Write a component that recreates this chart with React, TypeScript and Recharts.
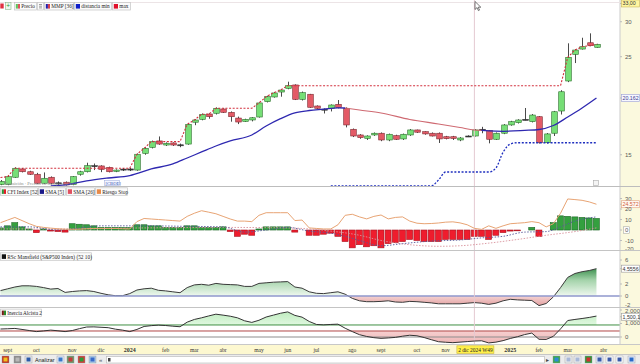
import React from 'react';
import { ComposedChart, Bar, Line, Area, XAxis, YAxis, ReferenceLine } from 'recharts';

// ---------- weekly price data (index 0 = week of 28 Aug 2023) ----------
const opens = [12.85, 12.85, 13.34, 13.93, 13.73, 13.55, 12.93, 13.34, 12.9, 13.0,
  12.85, 13.55, 13.73, 14.15, 14.15, 14.05, 13.76, 13.9, 13.93, 13.85,
  15.11, 15.59, 16.12, 15.78, 15.95, 15.8, 15.86, 17.77, 18.04, 18.55,
  18.62, 19.04, 18.71, 18.16, 17.85, 17.98, 18.26, 19.78, 20.27, 20.8,
  21.2, 21.58, 20.02, 20.56, 19.34, 19.0, 19.11, 19.51, 19.11, 17.13,
  16.63, 16.34, 16.63, 16.78, 16.2, 16.57, 16.29, 16.63, 17.07, 16.92,
  16.78, 16.78, 16.48, 16.48, 16.2, 16.52, 16.54, 17.12, 17.01, 16.26,
  16.78, 17.52, 17.73, 18.02, 17.82, 18.29, 15.97, 16.78, 18.84, 22.03,
  25.31, 26.02, 26.89, 26.26];
const highs = [13.15, 13.45, 14.05, 14.0, 13.8, 13.65, 13.68, 13.4, 13.05, 13.05,
  13.42, 13.8, 14.39, 14.33, 14.2, 14.1, 13.9, 14.0, 14.0, 15.1,
  15.6, 16.15, 16.5, 16.0, 16.0, 15.9, 17.65, 18.05, 18.6, 18.62,
  19.2, 19.1, 18.8, 18.3, 18.1, 18.25, 19.7, 20.4, 20.8, 21.1,
  21.95, 21.65, 20.85, 20.6, 19.4, 19.1, 19.5, 19.95, 19.2, 17.2,
  16.7, 16.6, 16.85, 16.85, 16.75, 16.65, 16.75, 17.15, 17.1, 16.95,
  16.85, 16.85, 16.55, 16.55, 16.45, 16.6, 17.15, 17.35, 17.05, 16.85,
  17.6, 17.9, 18.05, 19.14, 18.55, 18.35, 16.8, 18.85, 21.0, 26.81,
  26.0, 27.6, 28.24, 26.75];
const lows = [12.8, 12.8, 13.3, 13.68, 13.5, 12.88, 12.88, 12.85, 12.82, 12.78,
  12.8, 13.45, 13.68, 13.85, 13.7, 13.68, 13.7, 13.78, 13.78, 13.8,
  15.0, 15.5, 15.8, 15.7, 15.7, 15.6, 15.8, 17.5, 17.95, 18.1,
  18.5, 18.65, 17.82, 17.6, 17.8, 17.85, 18.2, 19.7, 20.2, 20.3,
  21.1, 19.95, 19.9, 19.15, 19.05, 18.6, 18.8, 19.1, 17.3, 16.45,
  16.3, 16.2, 16.55, 16.1, 16.1, 16.2, 16.2, 16.55, 16.8, 16.65,
  16.5, 15.95, 16.25, 16.2, 16.1, 16.45, 16.5, 16.78, 15.92, 16.2,
  16.7, 17.45, 17.65, 17.95, 17.75, 15.9, 15.9, 16.54, 18.5, 21.9,
  24.19, 25.95, 26.4, 26.2];
const closes = [13.05, 13.38, 13.98, 13.73, 13.55, 12.93, 13.27, 12.93, 12.96, 12.82,
  13.38, 13.73, 14.17, 14.17, 13.9, 13.73, 13.85, 13.92, 13.85, 15.04,
  15.51, 16.06, 15.86, 15.92, 15.78, 15.78, 17.58, 17.98, 18.52, 18.29,
  19.11, 18.71, 18.29, 17.79, 18.04, 18.19, 19.65, 20.3, 20.7, 21.02,
  21.5, 20.02, 20.73, 19.21, 19.11, 19.02, 19.44, 19.17, 17.52, 16.54,
  16.4, 16.54, 16.78, 16.2, 16.69, 16.26, 16.69, 17.07, 16.87, 16.72,
  16.54, 16.29, 16.31, 16.33, 16.37, 16.54, 17.07, 17.13, 16.26, 16.78,
  17.52, 17.82, 17.98, 18.04, 18.45, 15.97, 16.72, 18.77, 20.83, 24.92,
  25.89, 26.34, 26.48, 26.67];

// "max" (red dotted)
const maxLine = [13.32, 13.38, 13.98, 13.98, 13.98, 13.98, 13.98, 13.98, 13.98, 13.98,
  13.98, 13.98, 13.98, 13.98, 13.98, 13.98, 13.98, 13.98, 13.98, 15.04,
  15.51, 16.06, 16.06, 16.06, 16.06, 16.06, 17.58, 17.98, 18.52, 18.52,
  19.11, 19.11, 19.11, 19.11, 19.11, 19.11, 19.65, 20.3, 20.7, 21.02,
  21.5, 21.5, 21.5, 21.5, 21.5, 21.5, 21.5, 21.5, 21.5, 21.5,
  21.5, 21.5, 21.5, 21.5, 21.5, 21.5, 21.5, 21.5, 21.5, 21.5,
  21.5, 21.5, 21.5, 21.5, 21.5, 21.5, 21.5, 21.5, 21.5, 21.5,
  21.5, 21.5, 21.5, 21.5, 21.5, 21.5, 21.5, 21.5, 21.5, 24.92,
  25.89, 26.34, 26.48, 26.67];

// "distancia min" (blue dotted)
const minDistance: (number | null)[] = [
  null, null, null, null, null, null, null, null, null, null,
  null, null, null, null, null, null, null, null, null, null,
  null, null, null, null, null, null, null, null, null, null,
  null, null, null, null, null, null, null, null, null, null,
  null, null, null, null, null, null, 12.75, 12.75, 12.75, 12.75,
  12.75, 12.75, 12.75, 12.75, 12.75, 12.75, 12.75, 12.75, 12.75, 12.75,
  12.75, 13.15, 13.71, 13.71, 13.71, 13.71, 13.71, 13.71, 13.71, 14.0,
  15.2, 15.86, 15.97, 15.97, 15.97, 15.97, 15.97, 15.97, 15.97, 15.97,
  15.97, 15.97, 15.97, 15.97];

// MMP [36] read points [week index, value]
const mmpPoints: [number, number][] = [
  [7, 12.75], [9, 12.82], [12, 13.09], [15, 13.29], [18, 13.46], [21, 13.93], [24, 14.3],
  [26, 14.75], [28, 15.22], [30, 15.7], [32, 16.12], [35, 16.63], [37, 17.42], [39, 18.1],
  [41, 18.65], [43, 18.89], [45, 19.02], [47, 19.16], [48, 19.14], [50, 18.94], [53, 18.65],
  [57, 18.03], [61, 17.61], [64, 17.29], [66, 17.07], [67, 17.03], [68, 16.98], [70, 16.95],
  [73, 17.03], [75, 17.11], [77, 17.47], [79, 18.26], [81, 19.14], [83, 20.16]];
const mmpFallStart = 48;
const mmpFallEnd = 67;

// CFI Index [52]
const cfiValues = [2, 4, 7, 3, 1, -2.5, 1, -1, -1.5, -2,
  6, 5.5, 5, 4, 2.5, 2.5, 2.5, 2.5, 2.5, 5,
  5, 4, 4, 2.5, 2.5, 2.5, 4, 4, 2.5, 2.5,
  2.5, 3, -1.5, -6, -4, -5, 1, 3, 3, 3,
  3, -2, 0, -5, -5, -4, -3, -6, -11, -17,
  -14, -16, -15, -17, -13, -12, -11, -9, -10, -11,
  -11, -11, -9, -9, -9, -9, -6, -6, -9, -5,
  -2.5, -1, -0.5, 0, 2.5, -6, 0, 7, 13.5, 13,
  12.5, 12, 11.5, 11];
// Riesgo Stop
const riskStop = [7, 9.5, 12, 9, 6, 3.5, 2.5, 1.8, 1.2, 0.8,
  0.7, 0.8, 1.2, 1.5, 1.5, 1.5, 1.5, 1.2, 1.0, 8,
  11, 10.5, 10, 9.5, 9, 8.5, 13, 16, 18.4, 17,
  15.5, 13, 10.5, 8.5, 8.5, 8, 14, 16.5, 16.5, 16.5,
  16.5, 9, 9.5, 2, 1.5, 1, 1, 5, 14, 15,
  12.5, 10.6, 13, 14.3, 10.6, 12, 12.5, 8.5, 6.5, 6,
  6.2, 6.7, 7.5, 7.8, 6.8, 5, 1.6, 0.6, 4, 1.6,
  4, 6, 6.5, 7, 8, 7, 3, 6, 16, 29.6,
  29, 28.3, 26.8, 24.572];
const cfiSma5Points: [number, number][] = [
  [0, 3], [4, 3], [8, 0], [10, 1], [14, 4], [20, 4], [26, 3.5], [31, 3], [34, -2], [37, 0],
  [40, 2.5], [43, -1], [46, -3], [48, -6], [50, -10], [53, -15], [56, -13], [60, -10.5],
  [64, -9.5], [67, -7.5], [70, -6], [73, -2], [76, -1.5], [78, 3], [80, 8.5], [83, 12.5]];
const cfiSma26Points: [number, number][] = [
  [0, 1], [10, 1], [20, 2], [30, 2.5], [40, 2], [46, -1], [50, -5], [53, -10], [57, -14],
  [61, -15.5], [64, -15], [68, -12.5], [72, -9], [76, -5], [80, -1.5], [83, 2]];

// RSc Mansfield (S&P500 Index) (52 10)
const rscValues = [0.9, 1.2, 1.5, 1.7, 1.7, 1.6, 1.4, 1.15, 1.25, 0.6,
  0.75, 0.85, 0.9, 0.75, 0.45, 0.2, 0.05, 0.05, 0.4, 1.0,
  1.2, 1.3, 0.95, 0.85, 0.7, 0.55, 1.4, 1.85, 1.95, 1.8,
  2.1, 1.95, 1.9, 1.85, 1.6, 1.6, 2.1, 2.2, 2.3, 2.35,
  2.4, 1.5, 1.3, 0.7, 0.45, 0.4, 0.55, 0.7, 0.3, -0.4,
  -0.8, -0.95, -0.95, -0.9, -0.8, -1.0, -1.05, -0.9, -0.95, -1.05,
  -1.15, -1.3, -1.3, -1.3, -1.3, -1.2, -1.1, -1.2, -1.4, -1.2,
  -0.8, -0.55, -0.65, -0.7, -0.75, -1.6, -1.25, -0.15, 1.4, 3.1,
  3.75, 4.05, 4.25, 4.5556];

// Inercia Alcista 2
const inerciaValues = [590, 610, 635, 560, 480, 400, 450, 510, 460, 400,
  480, 620, 740, 750, 720, 690, 580, 510, 400, 560,
  780, 840, 880, 850, 800, 760, 1100, 1300, 1420, 1560,
  1690, 1620, 1540, 1420, 1200, 1080, 1240, 1480, 1620, 1760,
  1860, 1600, 1470, 1150, 930, 900, 930, 950, 650, 400,
  170, 40, -50, -100, -70, -30, 60, 130, 90, -40,
  -200, -350, -390, -420, -380, -340, -300, -280, -440, -380,
  -270, -110, 20, 180, 290, -170, -180, 50, 600, 1220,
  1300, 1370, 1450, 1550];
const inerciaUpper = 890;
const inerciaLower = 445;

// axis labels
const dateTicks = [1, 5, 10, 14, 18, 23, 27, 31, 36, 40, 44, 49, 53, 58, 62, 66, 71, 75, 79, 84];
const dateLabels = ['sept', 'oct', 'nov', 'dic', '2024', 'feb', 'mar', 'abr', 'may', 'jun', 'jul',
  'ago', 'sept', 'oct', 'nov', '2 dic 2024 W49', '2025', 'feb', 'mar', 'abr'];
const cursorIndex = 66;
const priceTicks = [15, 20.162, 25, 30, 33];
const cfiTicks = [30, 24.572, 20, 10, 0, -10, -20];
const rscTicks = [6, 4.5556, 2, 0, -2];
const inerciaTicks = [2000, 1500, 1000, 0];

// ---------- derived table ----------
const mmpMap = new Map<number, number>(mmpPoints);
const sma5Map = new Map<number, number>(cfiSma5Points);
const sma26Map = new Map<number, number>(cfiSma26Points);
const data = opens.map((o, i) => {
  const m = mmpMap.has(i) ? (mmpMap.get(i) as number) : null;
  return {
    i, o, h: highs[i], l: lows[i], c: closes[i],
    range: [lows[i], highs[i]],
    maxc: maxLine[i],
    mind: minDistance[i],
    mmpA: m != null && i <= mmpFallStart ? m : null,
    mmpB: m != null && i >= mmpFallStart && i <= mmpFallEnd ? m : null,
    mmpC: m != null && i >= mmpFallEnd ? m : null,
    cfi: cfiValues[i],
    risk: riskStop[i],
    sma5: sma5Map.has(i) ? sma5Map.get(i) : null,
    sma26: sma26Map.has(i) ? sma26Map.get(i) : null,
    rsc: rscValues[i],
    inr: inerciaValues[i],
  };
});

const rscMax = Math.max(...rscValues);
const rscMin = Math.min(...rscValues);
const rscZero = rscMax / (rscMax - rscMin);
const inrMax = Math.max(...inerciaValues);
const inrMin = Math.min(...inerciaValues);
const inrUpOff = (inrMax - inerciaUpper) / (inrMax - inrMin);
const inrLowOff = (inrMax - inerciaLower) / (inrMax - inrMin);

const X0 = -0.0696;
const X1 = 86.28;
const AX_FONT = 'Liberation Sans, Arial, sans-serif';
const LG_FONT = 'Liberation Serif, Times New Roman, serif';
const CROSS = '#e4c9d1';

// ---------- renderers ----------
function renderCandle(props: any) {
  const { x, y, width, height, payload } = props;
  if (!payload || x == null || y == null || height == null) return <g />;
  const top = Math.min(y, y + height);
  const span = Math.abs(height);
  const { o, c, h, l } = payload;
  const lh = Math.log(h);
  const ll = Math.log(l);
  const toPix = (v: number) => top + ((lh - Math.log(v)) / (lh - ll)) * span;
  const cx = Math.round(x + width / 2) + 0.5;
  const yTop = toPix(Math.max(o, c));
  const yBot = toPix(Math.min(o, c));
  const up = c >= o;
  const tiny = yBot - yTop < 1.2;
  return (
    <g>
      <line x1={cx} x2={cx} y1={top} y2={top + span} stroke="#4a4a4a" strokeWidth={1} />
      <rect x={cx - 2.8} y={yTop} width={5.6} height={Math.max(1, yBot - yTop)}
        fill={tiny ? '#333' : up ? '#76de76' : '#e35a66'}
        stroke={tiny ? '#333' : up ? '#2c6e2c' : '#7c2a31'} strokeWidth={0.6} />
    </g>
  );
}

function renderCfiBar(props: any) {
  const { x, y, width, height, payload } = props;
  const v = payload ? payload.cfi : null;
  if (v == null || v === 0 || x == null || y == null) return <g />;
  const top = Math.min(y, y + height);
  const hh = Math.max(0.8, Math.abs(height));
  const pos = v > 0;
  return <rect x={x + 0.5} y={top} width={width - 1} height={hh}
    fill={pos ? '#34a03f' : '#ef1c2d'} stroke={pos ? '#1b6524' : '#a8111d'} strokeWidth={0.6} />;
}

function plainTick(x: number, y: number, label: string) {
  return <text x={x} y={y + 2} fontSize={6} fontFamily={AX_FONT} fill="#5a5a5a">{label}</text>;
}
function boxTick(y: number, label: string, fill: string, stroke: string, color: string) {
  return (
    <g>
      <rect x={621.5} y={y - 3.5} width={18} height={7} fill={fill} stroke={stroke} strokeWidth={0.6} />
      <text x={622.5} y={y + 2} fontSize={5.3} fontFamily={AX_FONT} fill={color}>{label}</text>
    </g>
  );
}

function renderPriceTick(p: any) {
  const { x, y, payload } = p;
  const v = payload.value;
  if (v === 33) return boxTick(y, '33,00', '#fff6a0', '#c8b45a', '#333');
  if (v === 20.162) return boxTick(y, '20.162', '#f7f7ff', '#9aa0d8', '#3c3c90');
  return plainTick(x, y, String(v));
}
function renderCfiTick(p: any) {
  const { x, y, payload } = p;
  const v = payload.value;
  if (v === 24.572) return boxTick(y, '24.572', '#fff8f2', '#e2a080', '#d0603a');
  if (v === 0) return (
    <g>
      <rect x={x - 1.5} y={y - 3.2} width={6} height={6.4} fill="#fff" stroke="#9a9a9a" strokeWidth={0.5} />
      {plainTick(x, y, '0')}
    </g>
  );
  return plainTick(x, v === -20 ? y - 2 : y, String(v));
}
function renderRscTick(p: any) {
  const { x, y, payload } = p;
  const v = payload.value;
  if (v === 4.5556) return boxTick(y, '4.5556', '#ffffff', '#9a9a9a', '#333');
  return plainTick(x, v === -2 ? y - 3 : y, String(v));
}
function renderInerciaTick(p: any) {
  const { x, y, payload } = p;
  const v = payload.value;
  if (v === 1500) return boxTick(y, '1,500,1', '#ffffff', '#9a9a9a', '#333');
  return plainTick(x, v === 2000 ? y + 0.5 : y, v === 0 ? '0' : v.toLocaleString('en-US'));
}
function renderDateTick(p: any) {
  const { x, y, payload } = p;
  const k = dateTicks.indexOf(payload.value);
  const label = dateLabels[k] || '';
  if (payload.value === cursorIndex) {
    return (
      <g>
        <rect x={x - 17.5} y={y + 0.8} width={37} height={7.6} fill="#fff04a" stroke="#c9b43c" strokeWidth={0.6} />
        <text x={x + 1} y={y + 6.7} textAnchor="middle" fontSize={5.4} fontFamily={LG_FONT} fill="#222">{label}</text>
      </g>
    );
  }
  const bold = label === '2024' || label === '2025';
  return <text x={x} y={y + 6.7} textAnchor="middle" fontSize={bold ? 6 : 5.6}
    fontWeight={bold ? 'bold' : 'normal'} fontFamily={LG_FONT} fill="#333">{label}</text>;
}

function LegendItem({ x, y, w, label, colors }: { x: number; y: number; w: number; label: string; colors: string[] }) {
  return (
    <g>
      <rect x={x + 0.5} y={y + 0.5} width={w} height={7.5} fill="#fbfbfb" stroke="#c4c4c4" strokeWidth={0.7} />
      {colors.map((c, k) => (
        <rect key={k} x={x + 1.8 + (k * 4.2) / colors.length} y={y + 2} width={4.2 / colors.length} height={4.6} fill={c} />
      ))}
      <text x={x + 7.3} y={y + 6.4} fontSize={5.3} fontFamily={LG_FONT} fill="#222">{label}</text>
    </g>
  );
}

const toolIcons: [number, string, string][] = [
  [2, '#f0c020', '#c03020'], [14, '#b8b8b8', '#8a8a8a'], [25, '#2a5aa8', '#e8e8e8'],
  [57, '#3a78c8', '#dfe8f8'], [67, '#c83a3a', '#6a9a6a'], [78, '#2e9a3a', '#d83a3a'],
  [89, '#3a6ac8', '#a8c8e8'], [553, '#2e8ad8', '#3aa848'], [565, '#a8b8d8', '#eeeeee'],
  [574, '#a8b8d8', '#eeeeee'], [585, '#d03030', '#2e9a3a'], [596, '#3a5aa8', '#e0e8f8'],
  [606, '#3a5aa8', '#ffffff'], [616, '#3a5aa8', '#ffffff'], [628, '#2a6ac8', '#e0e8f8']];

export default function App() {
  const xAxisHidden = (
    <XAxis type="number" dataKey="i" domain={[X0, X1]} allowDataOverflow hide />
  );
  return (
    <div style={{ position: 'absolute', left: 0, top: 0, width: 640, height: 364, background: '#ffffff', overflow: 'hidden' }}>
      <svg width={0} height={0} style={{ position: 'absolute' }}>
        <defs>
          <linearGradient id="rscFill" x1="0" y1="0" x2="0" y2="1">
            <stop offset={0} stopColor="#3e9150" />
            <stop offset={rscZero * 0.42} stopColor="#a4d3aa" />
            <stop offset={rscZero} stopColor="#eff8ef" />
            <stop offset={rscZero} stopColor="#f4d3d3" />
            <stop offset={1} stopColor="#e3a0a0" />
          </linearGradient>
          <linearGradient id="inrGreen" x1="0" y1="0" x2="0" y2="1">
            <stop offset={0} stopColor="#bfecbf" />
            <stop offset={inrUpOff} stopColor="#e0f8e0" />
            <stop offset={inrUpOff} stopColor="#ffffff" stopOpacity={0} />
            <stop offset={1} stopColor="#ffffff" stopOpacity={0} />
          </linearGradient>
          <linearGradient id="inrRed" x1="0" y1="0" x2="0" y2="1">
            <stop offset={0} stopColor="#ffffff" stopOpacity={0} />
            <stop offset={inrLowOff} stopColor="#ffffff" stopOpacity={0} />
            <stop offset={inrLowOff} stopColor="#f6d0d0" />
            <stop offset={1} stopColor="#eeb6b6" />
          </linearGradient>
        </defs>
      </svg>

      {/* backgrounds */}
      <div style={{ position: 'absolute', left: 620, top: 0, width: 20, height: 345, background: '#fbf9de' }} />
      <div style={{ position: 'absolute', left: 0, top: 345, width: 640, height: 9, background: '#fdf8d0' }} />

      {/* price panel */}
      <div style={{ position: 'absolute', left: 0, top: 0 }}>
        <ComposedChart width={640} height={187} data={data} margin={{ top: 0, right: 0, bottom: 0, left: 0 }}>
          {xAxisHidden}
          <YAxis yAxisId={0} orientation="right" width={20} scale="log" domain={[12.68, 33.6]} allowDataOverflow
            ticks={priceTicks} interval={0} tick={renderPriceTick} tickSize={2} tickMargin={3}
            axisLine={{ stroke: '#cbcbcb' }} tickLine={{ stroke: '#bdbdbd' }} />
          <ReferenceLine x={cursorIndex} stroke={CROSS} strokeWidth={1} />
          <Line dataKey="maxc" type="linear" stroke="#d2303e" strokeWidth={1.1} strokeDasharray="2 1.6" dot={false} activeDot={false} isAnimationActive={false} />
          <Line dataKey="mind" type="monotone" stroke="#1f2fbf" strokeWidth={1.3} strokeDasharray="2 1.6" dot={false} activeDot={false} isAnimationActive={false} />
          <Line dataKey="mmpA" type="monotone" stroke="#2e28b0" strokeWidth={1.3} dot={false} activeDot={false} connectNulls isAnimationActive={false} />
          <Line dataKey="mmpB" type="monotone" stroke="#cf6a72" strokeWidth={1.1} dot={false} activeDot={false} connectNulls isAnimationActive={false} />
          <Line dataKey="mmpC" type="monotone" stroke="#2e28b0" strokeWidth={1.3} dot={false} activeDot={false} connectNulls isAnimationActive={false} />
          <Bar dataKey="range" barSize={6} shape={renderCandle} isAnimationActive={false} />
        </ComposedChart>
      </div>

      {/* CFI panel */}
      <div style={{ position: 'absolute', left: 0, top: 187 }}>
        <ComposedChart width={640} height={64} data={data} margin={{ top: 0, right: 0, bottom: 0, left: 0 }}>
          {xAxisHidden}
          <YAxis orientation="right" width={20} domain={[-20, 41]} allowDataOverflow ticks={cfiTicks} interval={0}
            tick={renderCfiTick} tickSize={2} tickMargin={3} axisLine={{ stroke: '#cbcbcb' }} tickLine={{ stroke: '#bdbdbd' }} />
          <ReferenceLine x={cursorIndex} stroke={CROSS} strokeWidth={1} />
          <Bar dataKey="cfi" barSize={7} shape={renderCfiBar} isAnimationActive={false} />
          <Line dataKey="sma26" type="monotone" stroke="#d8929c" strokeWidth={0.9} strokeDasharray="1.5 1.5" dot={false} activeDot={false} connectNulls isAnimationActive={false} />
          <Line dataKey="sma5" type="monotone" stroke="#55589a" strokeWidth={0.9} strokeDasharray="1.5 1.5" dot={false} activeDot={false} connectNulls isAnimationActive={false} />
          <Line dataKey="risk" type="linear" stroke="#e8a474" strokeWidth={1} dot={false} activeDot={false} isAnimationActive={false} />
        </ComposedChart>
      </div>

      {/* RSc Mansfield panel */}
      <div style={{ position: 'absolute', left: 0, top: 251 }}>
        <ComposedChart width={640} height={57} data={data} margin={{ top: 0, right: 0, bottom: 0, left: 0 }}>
          {xAxisHidden}
          <YAxis orientation="right" width={20} domain={[-2, 7.5]} allowDataOverflow ticks={rscTicks} interval={0}
            tick={renderRscTick} tickSize={2} tickMargin={3} axisLine={{ stroke: '#cbcbcb' }} tickLine={{ stroke: '#bdbdbd' }} />
          <Area dataKey="rsc" type="linear" baseValue={0} stroke="#3a3a3a" strokeWidth={1} fill="url(#rscFill)" fillOpacity={1} dot={false} activeDot={false} isAnimationActive={false} />
          <ReferenceLine y={0} stroke="#8f97cc" strokeWidth={1.6} />
          <ReferenceLine x={cursorIndex} stroke={CROSS} strokeWidth={1} />
        </ComposedChart>
      </div>

      {/* Inercia panel + date axis */}
      <div style={{ position: 'absolute', left: 0, top: 308 }}>
        <ComposedChart width={640} height={46} data={data} margin={{ top: 0, right: 0, bottom: 0, left: 0 }}>
          <XAxis type="number" dataKey="i" domain={[X0, X1]} allowDataOverflow ticks={dateTicks} interval={0}
            height={9} tickSize={0} tickMargin={0} axisLine={false} tickLine={false} tick={renderDateTick} />
          <YAxis orientation="right" width={20} domain={[-593, 2148]} allowDataOverflow ticks={inerciaTicks} interval={0}
            tick={renderInerciaTick} tickSize={2} tickMargin={3} axisLine={{ stroke: '#cbcbcb' }} tickLine={{ stroke: '#bdbdbd' }} />
          <Area dataKey="inr" type="linear" baseValue={inerciaUpper} stroke="none" fill="url(#inrGreen)" fillOpacity={1} dot={false} activeDot={false} isAnimationActive={false} />
          <Area dataKey="inr" type="linear" baseValue={inerciaLower} stroke="none" fill="url(#inrRed)" fillOpacity={1} dot={false} activeDot={false} isAnimationActive={false} />
          <ReferenceLine y={inerciaUpper} stroke="#3f8f42" strokeWidth={1} />
          <ReferenceLine y={inerciaLower} stroke="#b24646" strokeWidth={1} />
          <ReferenceLine y={0} stroke="#8e8e8e" strokeWidth={1.2} />
          <ReferenceLine x={cursorIndex} stroke={CROSS} strokeWidth={1} />
          <Line dataKey="inr" type="linear" stroke="#333333" strokeWidth={1} dot={false} activeDot={false} isAnimationActive={false} />
        </ComposedChart>
      </div>

      {/* overlay: legends, separators, toolbar */}
      <svg width={640} height={364} style={{ position: 'absolute', left: 0, top: 0, pointerEvents: 'none' }}>
        <line x1={0} x2={620} y1={2.5} y2={2.5} stroke="#ece4e6" strokeWidth={1} />
        {/* top legend row */}
        <rect x={0.3} y={3.5} width={3.4} height={5} fill="#e03040" />
        <rect x={5.5} y={2.5} width={5.5} height={7} fill="#eef8ee" stroke="#8ab88a" strokeWidth={0.6} />
        <text x={8.25} y={8.3} textAnchor="middle" fontSize={6.5} fontFamily={AX_FONT} fill="#2a9a2a">+</text>
        <LegendItem x={14} y={2} w={22} label="Precio" colors={['#5cc85c', '#e05060']} />
        <rect x={37.5} y={2.5} width={6} height={7.5} fill="#fbfbfb" stroke="#c4c4c4" strokeWidth={0.7} />
        <path d="M39 4.5h3M39 6.2h3M39 7.9h3" stroke="#777" strokeWidth={0.7} />
        <LegendItem x={44} y={2} w={29} label="MMP [36]" colors={['#2020b0', '#d04050']} />
        <LegendItem x={74} y={2} w={37} label="distancia min" colors={['#1020c8']} />
        <LegendItem x={112} y={2} w={18} label="max" colors={['#e0102a']} />

        {/* mouse cursor */}
        <path d="M475 1.5 L475 9.5 L477 7.6 L478.4 10.6 L479.5 10.1 L478.2 7.2 L480.8 7.2 Z" fill="#ffffff" stroke="#222" strokeWidth={0.6} />

        {/* feed note in price panel */}
        <text x={4} y={184.5} fontSize={4.6} fontFamily={LG_FONT} fill="#8a8a8a">Transición · Precios en tiempo real en</text>
        <rect x={104.5} y={180.3} width={15} height={5.4} fill="#f4f6ff" stroke="#9aa6d8" strokeWidth={0.5} />
        <text x={105.5} y={184.5} fontSize={4.6} fontFamily={LG_FONT} fill="#3050b0">[CBOE]</text>
        <rect x={593.5} y={180.5} width={5} height={5} fill="#f4f4f4" stroke="#a8a8a8" strokeWidth={0.6} />

        {/* panel separators */}
        <line x1={0} x2={640} y1={186.5} y2={186.5} stroke="#bdbdbd" strokeWidth={1} />
        <line x1={0} x2={640} y1={250.5} y2={250.5} stroke="#c4c4c4" strokeWidth={1} />
        <line x1={0} x2={640} y1={307.5} y2={307.5} stroke="#c4c4c4" strokeWidth={1} />
        <line x1={0} x2={640} y1={344.5} y2={344.5} stroke="#c8c8c8" strokeWidth={1} />

        {/* panel legends */}
        <LegendItem x={0} y={187.3} w={37} label="CFI Index [52]" colors={['#2a9a3a', '#e41b2b']} />
        <LegendItem x={38} y={187.3} w={27} label="SMA [5]" colors={['#1a1a8a']} />
        <LegendItem x={66} y={187.3} w={28} label="SMA [26]" colors={['#e05060']} />
        <LegendItem x={95} y={187.3} w={32} label="Riesgo Stop" colors={['#e88a48']} />
        <LegendItem x={0} y={252.3} w={91} label="RSc Mansfield (S&P500 Index) (52 10)" colors={['#111111']} />
        <LegendItem x={0} y={308.6} w={41} label="Inercia Alcista 2" colors={['#7a1a1a', '#2a8a2a']} />

        {/* bottom toolbar */}
        <rect x={0} y={354} width={640} height={10} fill="#ececec" />
        <line x1={0} x2={640} y1={354.5} y2={354.5} stroke="#c6c6c6" strokeWidth={1} />
        {toolIcons.map(([tx, c1, c2], k) => (
          <g key={k}>
            <rect x={tx} y={356} width={7} height={7} fill={c2} stroke="#9a9a9a" strokeWidth={0.4} />
            <rect x={tx + 1.5} y={357.5} width={4} height={4} fill={c1} />
          </g>
        ))}
        <text x={35} y={361.6} fontSize={5.4} fontFamily={AX_FONT} fill="#222">Analizar</text>
        <text x={99} y={361.8} fontSize={6} fontFamily={AX_FONT} fill="#555">«</text>
        <rect x={106.5} y={356.5} width={438} height={6.5} fill="#ffffff" stroke="#b4b4b4" strokeWidth={0.6} />
        <rect x={108} y={358} width={2.5} height={3.5} fill="#444" />
        <text x={545.5} y={361.8} fontSize={5.5} fontFamily={AX_FONT} fill="#444">▸</text>
      </svg>
    </div>
  );
}
